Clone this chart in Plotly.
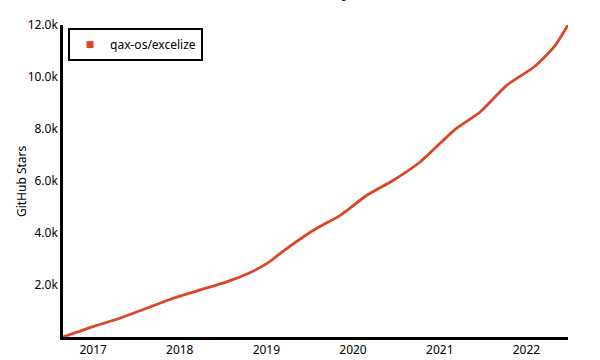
import plotly.graph_objects as go

# Data
dates = ["2016-08-27", "2017-01-01", "2017-04-23", "2017-08-14", "2017-12-05",
         "2018-03-29", "2018-07-20", "2018-10-11", "2019-01-04", "2019-03-29",
         "2019-07-20", "2019-11-10", "2020-03-01", "2020-06-21", "2020-10-11",
         "2021-03-03", "2021-06-21", "2021-10-11", "2022-02-03", "2022-04-28",
         "2022-06-25"]
stars = [0, 400, 720, 1105, 1490, 1810, 2130, 2420, 2830, 3410, 4115, 4690,
         5460, 6040, 6740, 7960, 8665, 9690, 10395, 11165, 12000]
series_name = "qax-os/excelize"

x_tickvals = ["2017-01-01", "2018-01-01", "2019-01-01", "2020-01-01",
              "2021-01-01", "2022-01-01"]
x_ticktext = ["2017", "2018", "2019", "2020", "2021", "2022"]
y_tickvals = [2000, 4000, 6000, 8000, 10000, 12000]
y_ticktext = ["2.0k", "4.0k", "6.0k", "8.0k", "10.0k", "12.0k"]

RED = "#dd4528"
FONT = "Noto Sans"

fig = go.Figure()
fig.add_trace(go.Scatter(
    x=dates, y=stars, mode="lines", name=series_name,
    line=dict(color=RED, width=2.8, shape="spline", smoothing=0.6),
    legendgroup="s", showlegend=False, hoverinfo="x+y",
))
# legend entry (square swatch like the reference)
fig.add_trace(go.Scatter(
    x=[None], y=[None], mode="markers", name=series_name,
    marker=dict(color=RED, symbol="square", size=7),
    legendgroup="s", showlegend=True,
))

fig.update_layout(
    width=600, height=360,
    margin=dict(l=63, r=32, t=25, b=23, autoexpand=False),
    paper_bgcolor="white", plot_bgcolor="white",
    font=dict(family=FONT, size=11, color="black"),
    showlegend=True,
    legend=dict(x=0.01, y=0.99, xanchor="left", yanchor="top",
                bgcolor="white", bordercolor="black", borderwidth=2,
                font=dict(size=12, family=FONT),
                itemsizing="trace", itemwidth=30,
                tracegroupgap=0),
    xaxis=dict(
        type="date",
        range=[dates[0], dates[-1]],
        tickmode="array", tickvals=x_tickvals, ticktext=x_ticktext,
        showgrid=False, zeroline=False,
        showline=True, linecolor="black", linewidth=2.5,
        ticks="", ticklen=0,
        tickfont=dict(size=12),
        automargin=False,
        fixedrange=True,
    ),
    yaxis=dict(
        range=[0, 12000],
        tickmode="array", tickvals=y_tickvals, ticktext=y_ticktext,
        showgrid=False, zeroline=False,
        showline=True, linecolor="black", linewidth=2.5,
        ticks="", ticklen=0,
        tickfont=dict(size=12),
        automargin=False,
        fixedrange=True,
    ),
    annotations=[
        dict(text="Star History", xref="paper", yref="paper",
             x=0.469, y=(337 - 4) / 312, xanchor="center", yanchor="bottom",
             showarrow=False, font=dict(size=19, family=FONT)),
        dict(text="Date", xref="paper", yref="paper", x=0.47, y=-0.06,
             xanchor="center", yanchor="top", showarrow=False,
             font=dict(size=13, family=FONT)),
        dict(text="GitHub Stars", xref="paper", yref="paper", x=-0.083, y=0.5,
             xanchor="center", yanchor="middle", textangle=-90,
             showarrow=False, font=dict(size=12, family=FONT)),
    ],
)

fig.write_html("out.html")
